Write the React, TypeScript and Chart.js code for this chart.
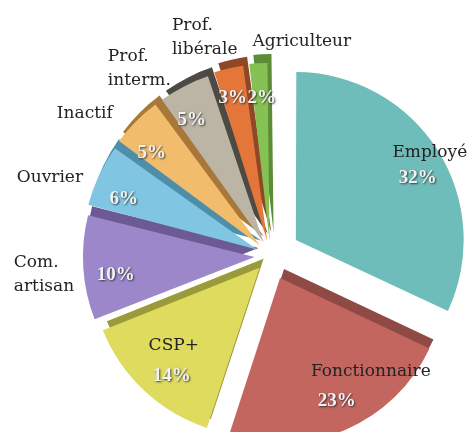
import React, { useEffect, useRef } from "react";
import { Chart, registerables } from "chart.js";

Chart.register(...registerables);

// ---- data ----
const categories = [
  "Employé",
  "Fonctionnaire",
  "CSP+",
  "Com. artisan",
  "Ouvrier",
  "Inactif",
  "Prof. interm.",
  "Prof. libérale",
  "Agriculteur",
];
const nameLines = [
  ["Employé"],
  ["Fonctionnaire"],
  ["CSP+"],
  ["Com.", "artisan"],
  ["Ouvrier"],
  ["Inactif"],
  ["Prof.", "interm."],
  ["Prof.", "libérale"],
  ["Agriculteur"],
];
const shares = [32, 23, 14, 10, 6, 5, 5, 3, 2];
const pctLabels = ["32%", "23%", "14%", "10%", "6%", "5%", "5%", "3%", "2%"];

// ---- styles ----
const FACE_COLORS = [
  "#6fbdbb",
  "#c2665f",
  "#dedb5e",
  "#9b87c9",
  "#80c6e2",
  "#f1bd6c",
  "#bcb4a4",
  "#e4763a",
  "#86c153",
];
const SIDE_COLORS = [
  "rgba(0,0,0,0)",
  "#8f4a46",
  "#9a9a3c",
  "#6b5a93",
  "#4e8ea8",
  "#a8783a",
  "#4d4a44",
  "#8e4826",
  "#5c8c36",
];
const EXPLODE_PX = [30, 24, 16, 16, 15, 15, 15, 15, 15];
const SIDE_SHIFT = { x: 4, y: -9 };
// label placement: [fraction along slice angle, radius fraction, align]
const NAME_PLACE: [number, number, CanvasTextAlign][] = [
  [0.495, 0.968, "center"],
  [0.251, 0.792, "center"],
  [0.587, 0.704, "center"],
  [0.481, 1.463, "left"],
  [0.218, 1.328, "center"],
  [0.05, 1.327, "center"],
  [-0.328, 1.414, "left"],
  [-0.657, 1.362, "left"],
  [2.28, 1.222, "center"],
];
const PCT_PLACE: [number, number][] = [
  [0.548, 0.829],
  [0.483, 0.821],
  [0.417, 0.845],
  [0.394, 0.848],
  [0.296, 0.863],
  [0.25, 0.862],
  [0.311, 0.861],
  [0.417, 0.894],
  [0.57, 0.868],
];
const NAME_FONT = '17px "DejaVu Serif"';
const PCT_FONT = 'bold 19px "Liberation Serif"';
const LINE_H = 24;

function sliceTip(el: any) {
  const off = (el.options.offset || 0) / 4;
  const mid = (el.startAngle + el.endAngle) / 2;
  return { x: el.x + Math.cos(mid) * off, y: el.y + Math.sin(mid) * off };
}

function placeAt(el: any, frac: number, rf: number) {
  const tip = sliceTip(el);
  const a = el.startAngle + frac * (el.endAngle - el.startAngle);
  return {
    x: tip.x + Math.cos(a) * rf * el.outerRadius,
    y: tip.y + Math.sin(a) * rf * el.outerRadius,
  };
}

const sidePlugin = {
  id: "sideFaces",
  beforeDatasetsDraw(chart: any) {
    const ctx = chart.ctx;
    const meta = chart.getDatasetMeta(0);
    meta.data.forEach((el: any, i: number) => {
      const ghost = Object.create(el);
      ghost.options = Object.assign({}, el.options, {
        backgroundColor: SIDE_COLORS[i],
        borderWidth: 0,
      });
      ctx.save();
      ctx.translate(SIDE_SHIFT.x, SIDE_SHIFT.y);
      ghost.draw(ctx);
      ctx.restore();
    });
  },
};

const labelPlugin = {
  id: "pieLabels",
  afterDatasetsDraw(chart: any) {
    const ctx = chart.ctx;
    const meta = chart.getDatasetMeta(0);
    meta.data.forEach((el: any, i: number) => {
      const [f, rf, align] = NAME_PLACE[i];
      const p = placeAt(el, f, rf);
      const lines = nameLines[i];
      ctx.save();
      ctx.font = NAME_FONT;
      ctx.fillStyle = "#232323";
      ctx.textAlign = align;
      ctx.textBaseline = "middle";
      const y0 = p.y - ((lines.length - 1) * LINE_H) / 2;
      lines.forEach((ln, k) => ctx.fillText(ln, p.x, y0 + k * LINE_H));
      ctx.restore();

      const [pf, prf] = PCT_PLACE[i];
      const q = placeAt(el, pf, prf);
      ctx.save();
      ctx.font = PCT_FONT;
      ctx.textAlign = "center";
      ctx.textBaseline = "middle";
      ctx.shadowColor = "rgba(40,40,40,0.85)";
      ctx.shadowBlur = 2;
      ctx.shadowOffsetX = 1;
      ctx.shadowOffsetY = 1;
      ctx.fillStyle = "#f2f2f2";
      ctx.fillText(pctLabels[i], q.x, q.y);
      ctx.restore();
    });
  },
};

export default function App() {
  const ref = useRef<HTMLCanvasElement>(null);
  useEffect(() => {
    if (!ref.current) return;
    const chart = new Chart(ref.current, {
      type: "pie",
      data: {
        labels: categories,
        datasets: [
          {
            data: shares,
            backgroundColor: FACE_COLORS,
            borderWidth: 0,
            offset: EXPLODE_PX.map((px) => px * 4),
          },
        ],
      },
      options: {
        animation: false,
        responsive: true,
        maintainAspectRatio: false,
        radius: 165,
        layout: { padding: { left: 71, top: 80, right: 0, bottom: 0 } },
        plugins: {
          legend: { display: false },
          tooltip: { enabled: false },
        },
        events: [],
      },
      plugins: [sidePlugin, labelPlugin],
    });
    return () => chart.destroy();
  }, []);
  return (
    <div
      style={{
        position: "absolute",
        left: 0,
        top: 0,
        width: 470,
        height: 432,
        background: "#ffffff",
      }}
    >
      <canvas ref={ref} />
    </div>
  );
}
